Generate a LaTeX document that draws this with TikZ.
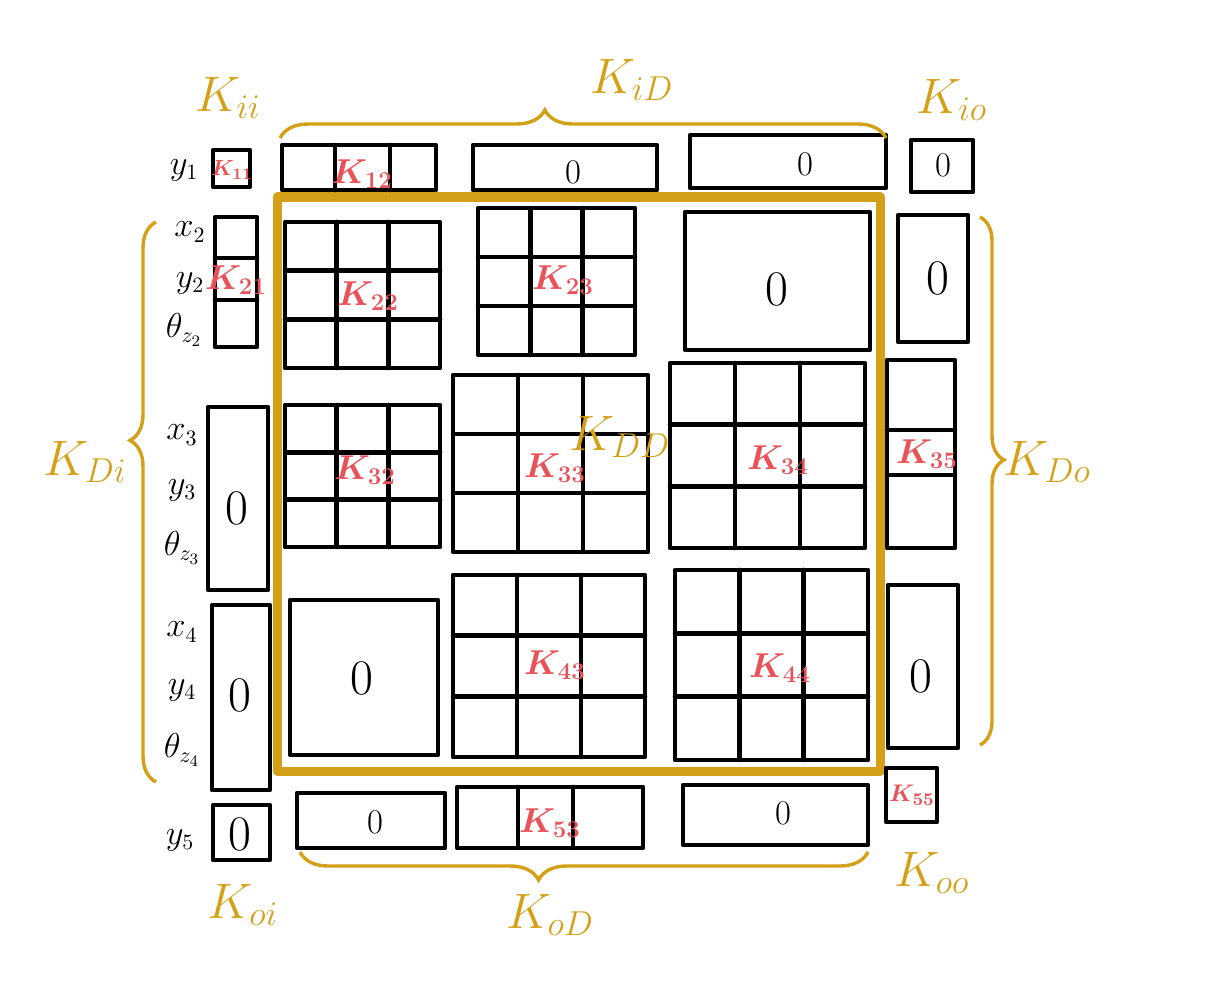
\documentclass[tikz,border=0pt]{standalone}
\usetikzlibrary{decorations.pathreplacing}
\definecolor{gold}{RGB}{212,160,23}
\definecolor{kred}{RGB}{232,82,88}
\newcommand\kgrid[4]{%
  \draw[blk] (#1,#2) rectangle (#3,#4);
  \draw[blk] ({#1+(#3-#1)/3},#2) -- ({#1+(#3-#1)/3},#4)
             ({#1+2*(#3-#1)/3},#2) -- ({#1+2*(#3-#1)/3},#4)
             (#1,{#2+(#4-#2)/3}) -- (#3,{#2+(#4-#2)/3})
             (#1,{#2+2*(#4-#2)/3}) -- (#3,{#2+2*(#4-#2)/3});}
\begin{document}
\begin{tikzpicture}[x=0.5pt,y=-0.5pt,
  blk/.style={line width=2.3pt, line join=round, line cap=round},
  frame/.style={draw=gold, line width=4.5pt, line join=round},
  brc/.style={draw=gold, line width=1.7pt, decorate,
    decoration={brace, amplitude=#1}},
  klab/.style={text=kred, font=\fontsize{17}{19}\selectfont\boldmath},
  zlab/.style={font=\fontsize{23}{25}\selectfont},
  zsmall/.style={font=\fontsize{19}{21}\selectfont},
  glab/.style={text=gold, font=\fontsize{25}{28}\selectfont},
  rlab/.style={font=\fontsize{16}{18}\selectfont}]
\useasboundingbox (0,0) rectangle (1218,1000);

% ---- main gold frame (K_DD)
\draw[frame] (277,197) rectangle (880,771);

% ---- row 1 (y1)
\draw[blk] (213,150) rectangle (250,187);
\node[klab, font=\fontsize{11}{12}\selectfont\boldmath] (k11) at (232,170) {$K_{11}$};
\draw[blk] (282,145) rectangle (436,190);
\draw[blk] (335,145) -- (335,190) (390,145) -- (390,190);
\node[klab] (k12) at (362,174) {$K_{12}$};
\draw[blk] (473,145) rectangle (657,190);
\node[zsmall] (z13) at (573,172) {$0$};
\draw[blk] (690,135) rectangle (886,188);
\node[zsmall] (z14) at (805,164) {$0$};
\draw[blk] (911,140) rectangle (973,192);
\node[zsmall] (z15) at (943,165) {$0$};

% ---- left column
\draw[blk] (215,217) rectangle (257,347);
\draw[blk] (215,258) -- (257,258) (215,300) -- (257,300);
\node[klab] (k21) at (236,280) {$K_{21}$};
\draw[blk] (208,407) rectangle (268,590);
\node[zlab] (z31) at (237,508) {$0$};
\draw[blk] (212,605) rectangle (270,790);
\node[zlab] (z41) at (240,695) {$0$};
\draw[blk] (213,805) rectangle (270,860);
\node[zlab] (z51) at (240,834) {$0$};

% ---- row labels
\node[rlab] (ly1) at (184,170) {$y_1$};
\node[rlab] (lx2) at (190,232) {$x_2$};
\node[rlab] (ly2) at (190,283) {$y_2$};
\node[rlab] (lt2) at (184,330) {$\theta_{z_2}$};
\node[rlab] (lx3) at (182,435) {$x_3$};
\node[rlab] (ly3) at (182,490) {$y_3$};
\node[rlab] (lt3) at (182,548) {$\theta_{z_3}$};
\node[rlab] (lx4) at (182,632) {$x_4$};
\node[rlab] (ly4) at (182,690) {$y_4$};
\node[rlab] (lt4) at (182,750) {$\theta_{z_4}$};
\node[rlab] (ly5) at (180,840) {$y_5$};

% ---- block row 2
\kgrid{285}{222}{440}{368}
\node[klab] (k22) at (368,296) {$K_{22}$};
\kgrid{478}{208}{635}{355}
\node[klab] (k23) at (563,280) {$K_{23}$};
\draw[blk] (685,212) rectangle (870,350);
\node[zlab] (z24) at (777,289) {$0$};

% ---- block row 3
\kgrid{285}{405}{440}{547}
\node[klab] (k32) at (365,470) {$K_{32}$};
\kgrid{453}{375}{648}{552}
\node[klab] (k33) at (555,468) {$K_{33}$};
\kgrid{670}{363}{865}{548}
\node[klab] (k34) at (778,460) {$K_{34}$};

% ---- block row 4
\draw[blk] (290,600) rectangle (438,755);
\node[zlab] (z42) at (362,678) {$0$};
\kgrid{453}{575}{645}{757}
\node[klab] (k43) at (555,665) {$K_{43}$};
\kgrid{675}{570}{868}{760}
\node[klab] (k44) at (780,668) {$K_{44}$};

% ---- right column
\draw[blk] (898,215) rectangle (968,342);
\node[zlab] (z25) at (938,278) {$0$};
\draw[blk] (887,360) rectangle (955,548);
\draw[blk] (887,430) -- (955,430) (887,475) -- (955,475);
\node[klab] (k35) at (927,454) {$K_{35}$};
\draw[blk] (888,585) rectangle (958,748);
\node[zlab] (z45) at (921,676) {$0$};
\draw[blk] (886,768) rectangle (937,822);
\node[klab, font=\fontsize{13}{14}\selectfont\boldmath] (k55) at (912,795) {$K_{55}$};

% ---- bottom row
\draw[blk] (297,793) rectangle (445,848);
\node[zsmall] (z52) at (375,822) {$0$};
\draw[blk] (457,787) rectangle (643,848);
\draw[blk] (518,787) -- (518,848) (573,787) -- (573,848);
\node[klab] (k53) at (550,823) {$K_{53}$};
\draw[blk] (683,785) rectangle (868,845);
\node[zsmall] (z54) at (783,813) {$0$};

% ---- braces
\coordinate (bt1) at (280,138);
\coordinate (bt2) at (886,138);
\draw[brc=14pt, decoration={aspect=0.437}] (bt1) -- (bt2);
\coordinate (bl1) at (156,782);
\coordinate (bl2) at (156,222);
\draw[brc=13pt, decoration={aspect=0.61}] (bl1) -- (bl2);
\coordinate (br1) at (980,217);
\coordinate (br2) at (980,745);
\draw[brc=12pt, decoration={aspect=0.46}] (br1) -- (br2);
\coordinate (bb1) at (868,852);
\coordinate (bb2) at (300,852);
\draw[brc=14pt, decoration={aspect=0.58}] (bb1) -- (bb2);

% ---- gold labels
\node[glab] (gii) at (228,98) {$K_{ii}$};
\node[glab] (giD) at (632,80) {$K_{iD}$};
\node[glab] (gio) at (952,100) {$K_{io}$};
\node[glab] (gDi) at (85,462) {$K_{Di}$};
\node[glab] (gDD) at (620,437) {$K_{DD}$};
\node[glab] (gDo) at (1047,462) {$K_{Do}$};
\node[glab] (goi) at (243,905) {$K_{oi}$};
\node[glab] (goD) at (550,915) {$K_{oD}$};
\node[glab] (goo) at (932,873) {$K_{oo}$};
\end{tikzpicture}
\end{document}
